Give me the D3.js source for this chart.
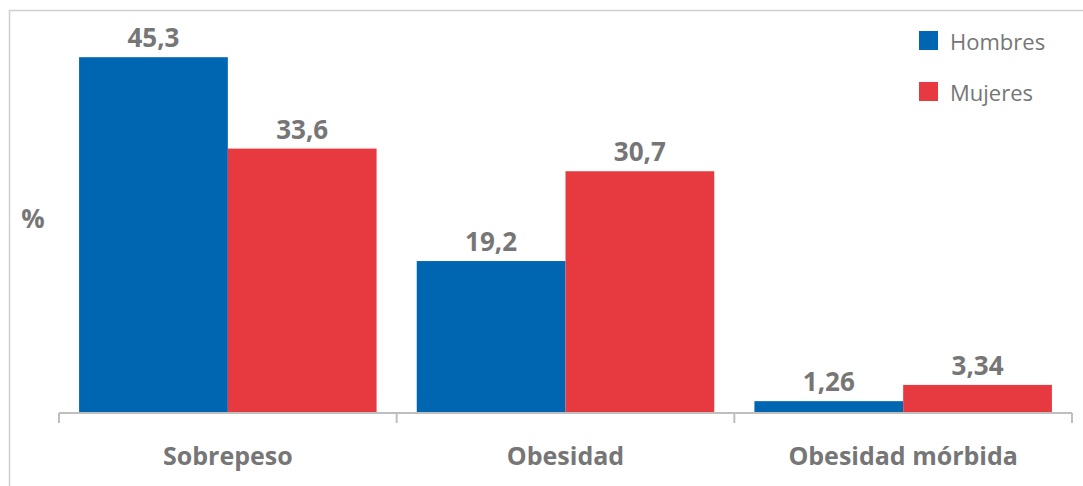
<!DOCTYPE html>
<html>
<head>
<meta charset="utf-8">
<script src="https://cdn.jsdelivr.net/npm/d3@7"></script>
<style>
    html, body { margin: 0; padding: 0; background: #fff; }
    #chart { width: 1083px; height: 486px; }
    text { font-family: "Open Sans", "Noto Sans", sans-serif; }
</style>
</head>
<body>
<div id="chart"></div>
<script>
const categories = ["Sobrepeso", "Obesidad", "Obesidad mórbida"];
const seriesNames = ["Hombres", "Mujeres"];
const hombres = [45.3, 19.2, 1.26];
const mujeres = [33.6, 30.7, 3.34];
const valueLabels = [["45,3", "19,2", "1,26"], ["33,6", "30,7", "3,34"]];
const yAxisLabel = "%";

const colors = ["#0066B1", "#E63A40"];
const textColor = "#767676";

const width = 1083, height = 486;
const plot = { left: 59, right: 1072, top: 20.5, zero: 411, base: 413 };

const svg = d3.select("#chart").append("svg")
    .attr("width", width)
    .attr("height", height);

// outer frame (right/bottom edges fall outside the picture)
svg.append("rect")
    .attr("x", 9.5).attr("y", 10.5)
    .attr("width", 1100).attr("height", 500)
    .attr("fill", "none")
    .attr("stroke", "#D0D0D0")
    .attr("stroke-width", 1.5);

// Scales
const x0 = d3.scaleBand()
    .domain(categories)
    .range([plot.left, plot.right])
    .padding(0);

const x1 = d3.scaleBand()
    .domain(seriesNames)
    .range([0, x0.bandwidth()])
    .paddingInner(0)
    .paddingOuter(0.135);

const y = d3.scaleLinear()
    .domain([0, 50])
    .range([plot.zero, plot.top]);

const rows = categories.map((c, i) => ({
    cat: c,
    vals: [
        { s: seriesNames[0], v: hombres[i], label: valueLabels[0][i], color: colors[0] },
        { s: seriesNames[1], v: mujeres[i], label: valueLabels[1][i], color: colors[1] }
    ]
}));

const groups = svg.selectAll(".grp")
    .data(rows)
    .enter().append("g")
    .attr("class", "grp")
    .attr("transform", d => `translate(${x0(d.cat)},0)`);

// bars run down to the axis line
groups.selectAll("rect")
    .data(d => d.vals)
    .enter().append("rect")
    .attr("x", d => x1(d.s))
    .attr("y", d => y(d.v))
    .attr("width", x1.bandwidth())
    .attr("height", d => plot.base - y(d.v))
    .attr("fill", d => d.color);

groups.selectAll(".val")
    .data(d => d.vals)
    .enter().append("text")
    .attr("class", "val")
    .attr("x", d => x1(d.s) + x1.bandwidth() / 2)
    .attr("y", d => y(d.v) - 10)
    .attr("text-anchor", "middle")
    .attr("fill", textColor)
    .style("font-size", "26px")
    .style("font-weight", 700)
    .text(d => d.label);

// X axis: baseline with tick marks at category boundaries
const xAxis = svg.append("g")
    .attr("transform", `translate(0,${plot.base})`);

xAxis.append("line")
    .attr("x1", plot.left).attr("x2", plot.right)
    .attr("stroke", "#BFBFBF")
    .attr("stroke-width", 2);

const boundaries = categories.map(c => x0(c)).concat([plot.right]);
xAxis.selectAll(".tick")
    .data(boundaries)
    .enter().append("line")
    .attr("class", "tick")
    .attr("x1", d => d).attr("x2", d => d)
    .attr("y1", 0).attr("y2", 10)
    .attr("stroke", "#BFBFBF")
    .attr("stroke-width", 2);

xAxis.selectAll(".cat")
    .data(categories)
    .enter().append("text")
    .attr("class", "cat")
    .attr("x", d => x0(d) + x0.bandwidth() / 2)
    .attr("y", 52)
    .attr("text-anchor", "middle")
    .attr("fill", textColor)
    .style("font-size", "25px")
    .style("font-weight", 700)
    .text(d => d);

// Y label
svg.append("text")
    .attr("x", 33)
    .attr("y", 228)
    .attr("text-anchor", "middle")
    .attr("fill", textColor)
    .style("font-size", "26px")
    .style("font-weight", 700)
    .text(yAxisLabel);

// Legend
const legend = svg.selectAll(".leg")
    .data(seriesNames)
    .enter().append("g")
    .attr("class", "leg")
    .attr("transform", (d, i) => `translate(919,${31 + i * 51})`);

legend.append("rect")
    .attr("width", 19).attr("height", 19)
    .attr("fill", (d, i) => colors[i]);

legend.append("text")
    .attr("x", 31)
    .attr("y", 19)
    .attr("fill", textColor)
    .style("font-size", "22px")
    .text(d => d);
</script>
</body>
</html>
